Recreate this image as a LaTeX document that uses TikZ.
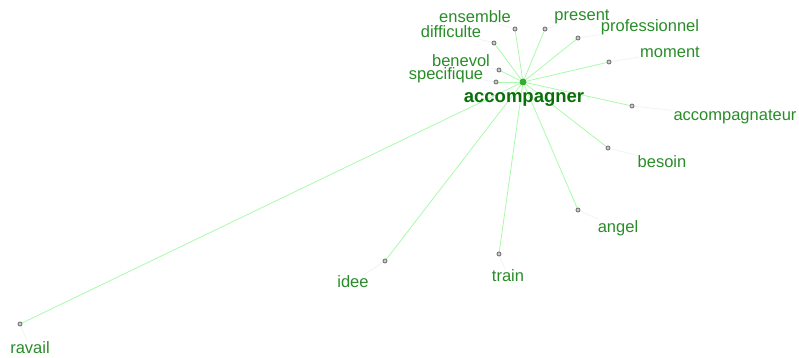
\documentclass[tikz,border=0pt]{standalone}
\usepackage{fontspec}
\setmainfont{Liberation Sans}
\usepackage{tikz}
\usetikzlibrary{backgrounds}
\definecolor{wordgreen}{RGB}{40,140,40}
\definecolor{hubgreen}{RGB}{10,110,10}
\definecolor{edgegreen}{RGB}{170,250,170}
\definecolor{dotgray}{RGB}{120,120,120}

\begin{document}
\begin{tikzpicture}[x=1pt,y=-1pt,
	word/.style={text=wordgreen,inner sep=1pt,font=\fontsize{16.5}{18}\selectfont},
	hubword/.style={text=hubgreen,inner sep=1pt,font=\fontsize{18.5}{20}\selectfont\bfseries},
	wdot/.style={circle,draw=dotgray,fill=gray!40,line width=0.9pt,minimum size=4pt,inner sep=0pt},
	hubdot/.style={circle,fill=green!60!black!80,minimum size=7pt,inner sep=0pt},
	edge/.style={edgegreen,line width=0.8pt},
	labline/.style={gray!10,line width=0.8pt}]
		\useasboundingbox (0,0) rectangle (799,358);
		\node[hubdot] (hub) at (523,82) {};
		\node[hubword] (l-hub) at (524,99) {accompagner};
		\node[wdot] (d-ens) at (515,29) {};
		\node[wdot] (d-pre) at (545,29) {};
		\node[wdot] (d-pro) at (578,38) {};
		\node[wdot] (d-dif) at (494,43) {};
		\node[wdot] (d-mom) at (609,62) {};
		\node[wdot] (d-ben) at (499,70) {};
		\node[wdot] (d-spe) at (496,82) {};
		\node[wdot] (d-acc) at (632,106) {};
		\node[wdot] (d-bes) at (608,148) {};
		\node[wdot] (d-ang) at (578,210) {};
		\node[wdot] (d-tra) at (499,254) {};
		\node[wdot] (d-ide) at (385,261) {};
		\node[wdot] (d-rav) at (20,324) {};
		\node[word] (l-ens) at (475,17) {ensemble};
		\node[word] (l-pre) at (582,17) {present};
		\node[word] (l-pro) at (650,27) {professionnel};
		\node[word] (l-dif) at (451,32) {difficulte};
		\node[word] (l-mom) at (670,52) {moment};
		\node[word] (l-ben) at (461,61) {benevol};
		\node[word] (l-spe) at (446,75) {specifique};
		\node[word] (l-acc) at (735,117) {accompagnateur};
		\node[word] (l-bes) at (662,162) {besoin};
		\node[word] (l-ang) at (618,228) {angel};
		\node[word] (l-tra) at (508,276) {train};
		\node[word] (l-ide) at (353,282) {idee};
		\node[word] (l-rav) at (30,348) {ravail};
		\begin{scope}[on background layer]
		\foreach \w in {ens,pre,pro,dif,mom,ben,spe,acc,bes,ang,tra,ide,rav}
			\draw[labline] (d-\w) -- (l-\w);
		\foreach \w in {ens,pre,pro,dif,mom,ben,spe,acc,bes,ang,tra,ide,rav}
			\draw[edge] (hub) -- (d-\w);
		\end{scope}
	\end{tikzpicture}
\end{document}
